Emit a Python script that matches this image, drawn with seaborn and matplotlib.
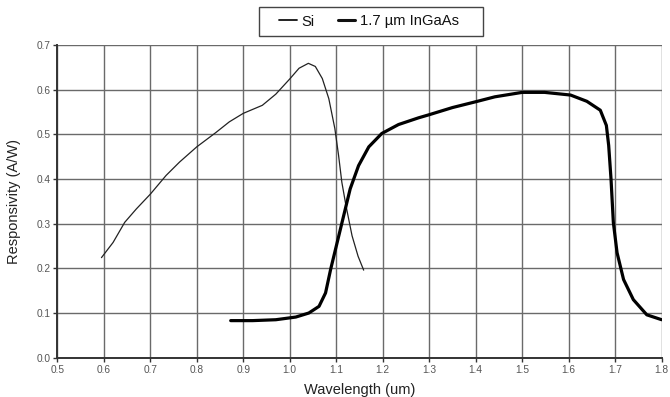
import matplotlib
matplotlib.use("Agg")
import matplotlib.pyplot as plt
from matplotlib.patches import Rectangle
import seaborn as sns
import pandas as pd

si_wl = [0.595, 0.620, 0.645, 0.670, 0.700, 0.734, 0.763, 0.800, 0.841, 0.870, 0.900,
         0.941, 0.970, 1.000, 1.020, 1.040, 1.055, 1.070, 1.084, 1.097, 1.105, 1.112,
         1.121, 1.134, 1.147, 1.159]
si_resp = [0.224, 0.258, 0.303, 0.333, 0.366, 0.408, 0.438, 0.472, 0.504, 0.528, 0.547,
           0.565, 0.590, 0.624, 0.648, 0.659, 0.652, 0.625, 0.580, 0.513, 0.453, 0.393,
           0.340, 0.273, 0.227, 0.196]

ingaas_wl = [0.873, 0.920, 0.970, 1.013, 1.041, 1.063, 1.077, 1.088, 1.102, 1.116, 1.130,
             1.148, 1.170, 1.198, 1.234, 1.277, 1.300, 1.350, 1.400, 1.441, 1.500, 1.548,
             1.604, 1.639, 1.668, 1.681, 1.686, 1.691, 1.696, 1.704, 1.718, 1.739, 1.768,
             1.800]
ingaas_resp = [0.083, 0.083, 0.085, 0.091, 0.100, 0.115, 0.145, 0.198, 0.258, 0.318, 0.378,
               0.430, 0.472, 0.502, 0.522, 0.537, 0.544, 0.560, 0.573, 0.584, 0.594, 0.594,
               0.588, 0.574, 0.554, 0.520, 0.475, 0.400, 0.303, 0.235, 0.175, 0.130, 0.096,
               0.085]

x_ticks = [0.5, 0.6, 0.7, 0.8, 0.9, 1.0, 1.1, 1.2, 1.3, 1.4, 1.5, 1.6, 1.7, 1.8]
y_ticks = [0.0, 0.1, 0.2, 0.3, 0.4, 0.5, 0.6, 0.7]
series_names = ["Si", "1.7 µm InGaAs"]

sns.set_style("white")
plt.rcParams['font.family'] = ['Liberation Sans', 'DejaVu Sans']

W, H = 670, 397
fig = plt.figure(figsize=(6.7, 3.97), dpi=100)
ax = fig.add_axes([0.0855, 0.099, 0.9021, 0.7876])

df_si = pd.DataFrame({"wl": si_wl, "r": si_resp})
df_in = pd.DataFrame({"wl": ingaas_wl, "r": ingaas_resp})
sns.lineplot(data=df_si, x="wl", y="r", ax=ax, color="#222222", linewidth=0.9,
             label=series_names[0], sort=False)
sns.lineplot(data=df_in, x="wl", y="r", ax=ax, color="#000000", linewidth=2.3,
             label=series_names[1], sort=False)

ax.set_xlim(0.5, 1.8)
ax.set_ylim(0.0, 0.7)
ax.set_xticks(x_ticks)
ax.set_yticks(y_ticks)
ax.set_xticklabels([f"{v:.1f}" for v in x_ticks])
ax.set_yticklabels([f"{v:.1f}" for v in y_ticks])
ax.grid(True, color="#6a6a6a", linewidth=1.0)
ax.set_axisbelow(True)
for s in ["top", "right"]:
    ax.spines[s].set_visible(False)
for s in ["left", "bottom"]:
    ax.spines[s].set_color("#333333")
    ax.spines[s].set_linewidth(1.4)
ax.tick_params(axis="both", which="major", labelsize=7.3, labelcolor="#555555",
               length=3, width=1, color="#333333", direction="out", pad=2,
               left=True, bottom=True)
ax.set_xlabel("Wavelength (um)", fontsize=10.5, color="#222222", labelpad=6)
ax.set_ylabel("Responsivity (A/W)", fontsize=10.5, color="#222222", labelpad=11)

leg = ax.legend(loc="center left", bbox_to_anchor=(279 / W, 1 - 21.5 / H),
                bbox_transform=fig.transFigure, ncol=2, frameon=False,
                fontsize=10.6, handlelength=1.2, handletextpad=0.3, columnspacing=1.6,
                borderpad=0, borderaxespad=0)
for line, lw in zip(leg.get_lines(), [1.3, 2.2]):
    line.set_linewidth(lw)
    line.set_color("#111111")
for t in leg.get_texts():
    t.set_color("#111111")

fig.patches.append(Rectangle((259 / W, 1 - 36 / H), 224 / W, 29 / H,
                             transform=fig.transFigure, fill=False,
                             edgecolor="#444444", linewidth=1.0))

fig.savefig("out.png", dpi=100)
